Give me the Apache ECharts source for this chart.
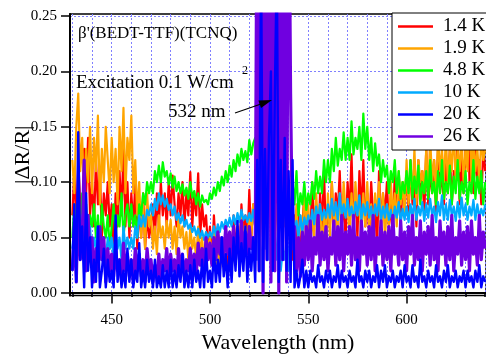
<!DOCTYPE html>
<html>
<head>
<meta charset="utf-8">
<script src="https://cdn.jsdelivr.net/npm/echarts@6/dist/echarts.min.js"></script>
<style>
  html, body { margin: 0; padding: 0; background: #fff; }
  #chart { width: 486px; height: 356px; }
</style>
</head>
<body>
<div id="chart"></div>
<script>
// wavelength grid: 430..640 nm, 1 nm step
var wlStart = 430;

var names = ['1.4 K', '1.9 K', '4.8 K', '10 K', '20 K', '26 K'];

var xMajor = [450, 500, 550, 600];
var xMinor = [430, 440, 450, 460, 470, 480, 490, 500, 510, 520, 530, 540, 550, 560, 570, 580, 590, 600, 610, 620, 630, 640];
var yTicks = [0, 0.05, 0.10, 0.15, 0.20, 0.25];

// 1.4 K
var k1_4 = [
  0.07,0.11,0.06,0.12,0.08,0.05,0.13,0.09,0.14,0.07,
  0.10,0.06,0.12,0.08,0.11,0.05,0.09,0.07,0.10,0.06,
  0.08,0.04,0.09,0.06,0.11,0.07,0.13,0.06,0.10,0.05,
  0.09,0.06,0.10,0.04,0.08,0.05,0.09,0.04,0.07,0.05,
  0.06,0.08,0.05,0.09,0.06,0.10,0.07,0.09,0.06,0.10,
  0.07,0.106,0.08,0.06,0.09,0.07,0.10,0.06,0.09,0.07,
  0.109,0.06,0.09,0.07,0.108,0.05,0.08,0.06,0.07,0.04,
  0.06,0.03,0.07,0.04,0.06,0.02,0.05,0.03,0.06,0.024,
  0.05,0.03,0.07,0.04,0.06,0.03,0.08,0.05,0.07,0.04,
  0.093,0.05,0.08,0.06,0.10,0.07,0.12,0.05,0.09,0.08,
  0.11,0.06,0.10,0.07,0.09,0.12,0.06,0.10,0.08,0.11,
  0.07,0.05,0.03,0.07,0.04,0.08,0.03,0.06,0.09,0.04,
  0.07,0.05,0.10,0.06,0.08,0.04,0.09,0.06,0.11,0.05,
  0.08,0.06,0.10,0.05,0.09,0.07,0.11,0.06,0.08,0.05,
  0.10,0.07,0.125,0.06,0.09,0.05,0.11,0.07,0.12,0.06,
  0.09,0.05,0.10,0.07,0.08,0.04,0.11,0.06,0.09,0.07,
  0.10,0.06,0.08,0.05,0.11,0.07,0.09,0.06,0.10,0.08,
  0.11,0.07,0.12,0.08,0.10,0.06,0.12,0.09,0.11,0.07,
  0.13,0.08,0.11,0.09,0.12,0.07,0.13,0.09,0.11,0.08,
  0.12,0.09,0.13,0.08,0.11,0.10,0.14,0.08,0.12,0.09,
  0.13,0.19,0.10,0.12,0.09,0.13,0.10,0.12,0.08,0.13,
  0.11
];

// 1.9 K
var k1_9 = [
  0.12,0.09,0.15,0.18,0.11,0.14,0.08,0.13,0.10,0.15,
  0.09,0.14,0.11,0.16,0.08,0.13,0.10,0.15,0.12,0.09,
  0.14,0.10,0.13,0.08,0.15,0.11,0.167,0.09,0.14,0.12,
  0.16,0.09,0.12,0.07,0.10,0.05,0.08,0.04,0.09,0.06,
  0.07,0.04,0.06,0.035,0.07,0.05,0.06,0.04,0.065,0.05,
  0.066,0.04,0.06,0.035,0.07,0.05,0.06,0.04,0.055,0.03,
  0.06,0.04,0.05,0.03,0.06,0.035,0.05,0.025,0.055,0.04,
  0.05,0.03,0.06,0.025,0.05,0.02,0.04,0.03,0.06,0.035,
  0.05,0.02,0.045,0.03,0.06,0.04,0.07,0.05,0.06,0.045,
  0.07,0.05,0.08,0.06,0.07,0.05,0.08,0.06,0.07,0.05,
  0.08,0.06,0.07,0.05,0.08,0.06,0.07,0.09,0.06,0.08,
  0.06,0.04,0.07,0.05,0.08,0.04,0.07,0.05,0.09,0.06,
  0.08,0.04,0.07,0.05,0.09,0.06,0.08,0.04,0.07,0.05,
  0.09,0.05,0.10,0.06,0.08,0.05,0.09,0.06,0.10,0.07,
  0.08,0.05,0.09,0.06,0.10,0.07,0.08,0.05,0.09,0.06,
  0.10,0.06,0.08,0.05,0.09,0.07,0.10,0.06,0.09,0.05,
  0.08,0.06,0.10,0.07,0.09,0.06,0.11,0.08,0.10,0.07,
  0.12,0.08,0.11,0.09,0.13,0.08,0.12,0.10,0.11,0.09,
  0.13,0.09,0.14,0.10,0.12,0.09,0.14,0.11,0.13,0.10,
  0.14,0.10,0.13,0.11,0.15,0.10,0.13,0.11,0.14,0.10,
  0.13,0.11,0.18,0.10,0.14,0.11,0.13,0.10,0.14,0.12,
  0.13
];

// 4.8 K
var k4_8 = [
  0.05,0.08,0.04,0.07,0.05,0.09,0.06,0.08,0.04,0.07,
  0.06,0.08,0.05,0.07,0.04,0.08,0.06,0.05,0.07,0.04,
  0.06,0.08,0.05,0.07,0.06,0.09,0.05,0.07,0.08,0.06,
  0.08,0.06,0.07,0.05,0.08,0.07,0.09,0.08,0.10,0.09,
  0.10,0.09,0.11,0.10,0.115,0.10,0.118,0.105,0.11,0.098,
  0.108,0.095,0.105,0.092,0.10,0.09,0.098,0.088,0.095,0.085,
  0.10,0.086,0.092,0.08,0.09,0.078,0.088,0.082,0.084,0.08,
  0.09,0.085,0.095,0.088,0.10,0.092,0.105,0.097,0.11,0.10,
  0.115,0.105,0.12,0.11,0.125,0.115,0.13,0.12,0.128,0.118,
  0.138,0.125,0.135,0.14,0.13,0.12,0.11,0.12,0.10,0.11,
  0.10,0.09,0.11,0.10,0.09,0.10,0.08,0.09,0.10,0.08,
  0.09,0.07,0.10,0.08,0.11,0.07,0.09,0.08,0.10,0.075,
  0.09,0.08,0.10,0.085,0.11,0.09,0.105,0.09,0.12,0.10,
  0.12,0.10,0.13,0.11,0.14,0.115,0.13,0.12,0.145,0.12,
  0.14,0.12,0.155,0.125,0.14,0.13,0.15,0.12,0.162,0.13,
  0.15,0.12,0.14,0.11,0.135,0.115,0.125,0.10,0.12,0.105,
  0.115,0.09,0.11,0.10,0.12,0.09,0.11,0.085,0.10,0.09,
  0.11,0.09,0.12,0.085,0.105,0.09,0.115,0.08,0.10,0.09,
  0.11,0.085,0.12,0.09,0.10,0.08,0.11,0.09,0.12,0.085,
  0.10,0.09,0.115,0.08,0.105,0.09,0.12,0.085,0.10,0.09,
  0.11,0.08,0.10,0.09,0.12,0.085,0.105,0.09,0.11,0.08,
  0.10
];

// 10 K
var k10 = [
  0.04,0.06,0.03,0.05,0.04,0.07,0.03,0.05,0.04,0.06,
  0.03,0.05,0.04,0.06,0.03,0.05,0.04,0.03,0.05,0.04,
  0.05,0.03,0.06,0.04,0.05,0.03,0.06,0.04,0.05,0.04,
  0.05,0.04,0.06,0.05,0.07,0.06,0.07,0.06,0.075,0.07,
  0.08,0.07,0.085,0.075,0.09,0.08,0.088,0.078,0.085,0.075,
  0.08,0.07,0.078,0.066,0.072,0.063,0.07,0.06,0.066,0.058,
  0.062,0.055,0.06,0.052,0.058,0.05,0.056,0.048,0.055,0.05,
  0.055,0.05,0.06,0.052,0.062,0.055,0.064,0.058,0.066,0.06,
  0.068,0.06,0.07,0.062,0.072,0.064,0.075,0.066,0.07,0.064,
  0.072,0.065,0.075,0.06,0.03,0.06,0.02,0.05,0.04,0.16,
  0.03,0.05,0.02,0.06,0.03,0.05,0.02,0.04,0.03,0.05,
  0.02,0.06,0.07,0.055,0.065,0.05,0.07,0.055,0.068,0.06,
  0.07,0.06,0.075,0.062,0.078,0.065,0.08,0.066,0.075,0.068,
  0.08,0.068,0.085,0.07,0.082,0.066,0.09,0.07,0.08,0.068,
  0.085,0.07,0.078,0.065,0.082,0.07,0.088,0.066,0.08,0.07,
  0.082,0.068,0.078,0.064,0.08,0.07,0.085,0.066,0.078,0.068,
  0.08,0.066,0.075,0.062,0.078,0.068,0.082,0.064,0.076,0.066,
  0.078,0.064,0.08,0.068,0.085,0.066,0.078,0.07,0.082,0.065,
  0.08,0.068,0.085,0.07,0.078,0.064,0.082,0.07,0.088,0.066,
  0.08,0.066,0.084,0.07,0.078,0.065,0.082,0.068,0.086,0.07,
  0.08,0.066,0.078,0.07,0.084,0.066,0.08,0.068,0.076,0.07,
  0.08
];

// 20 K
var k20 = [
  0.02,0.08,0.01,0.145,0.03,0.06,0.005,0.09,0.02,0.05,
  0.005,0.03,0.01,0.06,0.005,0.02,0.04,0.005,0.03,0.01,
  0.02,0.005,0.07,0.01,0.03,0.005,0.02,0.005,0.04,0.01,
  0.03,0.005,0.02,0.01,0.045,0.005,0.02,0.005,0.03,0.01,
  0.02,0.005,0.03,0.005,0.015,0.005,0.025,0.005,0.02,0.005,
  0.03,0.005,0.02,0.005,0.025,0.01,0.035,0.005,0.02,0.005,
  0.025,0.005,0.03,0.01,0.02,0.005,0.03,0.005,0.04,0.01,
  0.02,0.005,0.04,0.01,0.03,0.01,0.05,0.015,0.035,0.005,
  0.04,0.01,0.05,0.02,0.065,0.015,0.045,0.02,0.06,0.01,
  0.04,0.02,0.05,0.01,0.12,0.02,0.30,0.01,0.13,0.03,
  0.14,0.20,0.02,0.18,0.30,0.01,0.12,0.03,0.14,0.02,
  0.11,0.01,0.12,0.005,0.02,0.005,0.015,0.03,0.005,0.02,
  0.005,0.02,0.01,0.015,0.005,0.025,0.01,0.015,0.005,0.02,
  0.01,0.02,0.005,0.015,0.01,0.025,0.005,0.02,0.01,0.015,
  0.005,0.02,0.01,0.015,0.005,0.03,0.01,0.015,0.005,0.02,
  0.01,0.02,0.005,0.015,0.01,0.025,0.005,0.02,0.01,0.025,
  0.005,0.015,0.01,0.02,0.005,0.015,0.01,0.02,0.005,0.025,
  0.01,0.015,0.005,0.025,0.01,0.015,0.005,0.03,0.01,0.015,
  0.005,0.02,0.01,0.015,0.005,0.025,0.01,0.015,0.005,0.02,
  0.01,0.025,0.005,0.015,0.01,0.02,0.005,0.015,0.01,0.02,
  0.005,0.02,0.01,0.015,0.005,0.02,0.01,0.025,0.005,0.015,
  0.01
];

// 26 K (saturates at the 532 nm excitation line)
var k26 = [
  0.02,0.06,0.01,0.09,0.03,0.05,0.12,0.02,0.07,0.03,
  0.05,0.01,0.04,0.02,0.06,0.03,0.05,0.01,0.04,0.02,
  0.035,0.015,0.04,0.02,0.03,0.01,0.045,0.02,0.035,0.015,
  0.03,0.01,0.04,0.02,0.035,0.015,0.03,0.01,0.04,0.02,
  0.03,0.01,0.025,0.015,0.035,0.01,0.03,0.02,0.04,0.015,
  0.035,0.02,0.03,0.01,0.04,0.02,0.035,0.015,0.03,0.02,
  0.04,0.02,0.035,0.015,0.045,0.025,0.04,0.02,0.05,0.03,
  0.045,0.025,0.05,0.03,0.055,0.035,0.05,0.03,0.06,0.035,
  0.055,0.03,0.06,0.035,0.05,0.03,0.065,0.04,0.055,0.035,
  0.06,0.04,0.05,0.03,0.40,0.02,0.42,0.00,0.38,0.03,
  0.41,0.01,0.39,0.02,0.43,0.00,0.40,0.03,0.38,0.01,
  0.42,0.18,0.04,0.06,0.02,0.05,0.015,0.055,0.025,0.06,
  0.03,0.065,0.02,0.05,0.035,0.07,0.025,0.055,0.03,0.06,
  0.02,0.05,0.035,0.065,0.025,0.06,0.03,0.07,0.02,0.055,
  0.035,0.06,0.025,0.07,0.03,0.05,0.02,0.065,0.035,0.055,
  0.025,0.06,0.03,0.07,0.02,0.05,0.035,0.065,0.025,0.055,
  0.03,0.06,0.02,0.07,0.035,0.05,0.025,0.065,0.03,0.055,
  0.02,0.06,0.035,0.07,0.025,0.05,0.03,0.065,0.02,0.055,
  0.035,0.06,0.025,0.07,0.03,0.05,0.02,0.065,0.035,0.055,
  0.025,0.06,0.03,0.07,0.02,0.05,0.035,0.065,0.025,0.055,
  0.03,0.06,0.02,0.065,0.035,0.05,0.025,0.07,0.03,0.055,
  0.04
];

// draw order: 20 K last so its spikes sit on top of the saturated 26 K block
var allData = [k1_4, k1_9, k4_8, k10, k26, k20];
var seriesNames = ['1.4 K', '1.9 K', '4.8 K', '10 K', '26 K', '20 K'];
var seriesColors = ['#ff0000', '#ffa500', '#00ff00', '#00aaff', '#7000e0', '#0000ff'];
var seriesWidths = [2.2, 2.2, 2.2, 2.2, 3.2, 2.4];

var serif = "'Liberation Serif', 'Times New Roman', serif";

function toPairs(arr) {
  var out = [];
  for (var i = 0; i < arr.length; i++) {
    out.push([wlStart + i, arr[i]]);
  }
  return out;
}

var series = [];
for (var s = 0; s < allData.length; s++) {
  series.push({
    name: seriesNames[s],
    type: 'line',
    data: toPairs(allData[s]),
    symbol: 'none',
    animation: false,
    clip: true,
    lineStyle: { color: seriesColors[s], width: seriesWidths[s], join: 'round' },
    itemStyle: { color: seriesColors[s] }
  });
}

var chart = echarts.init(document.getElementById('chart'), null, { renderer: 'canvas' });

var option = {
  backgroundColor: '#fff',
  animation: false,
  grid: {
    left: 70, right: 0, top: 14, bottom: 60.5,
    outerBoundsMode: 'none', containLabel: false,
    show: true, borderColor: '#000', borderWidth: 1.5, backgroundColor: 'transparent'
  },
  legend: {
    data: names,
    orient: 'vertical',
    left: 392, top: 13,
    padding: [4, 2, 4, 6],
    icon: 'rect',
    itemWidth: 35, itemHeight: 2.5, itemGap: 3,
    backgroundColor: '#fff',
    borderColor: '#000', borderWidth: 1,
    textStyle: { fontFamily: serif, fontSize: 19, color: '#000', lineHeight: 19, padding: [0, 0, 0, 5] }
  },
  xAxis: [{
    type: 'value', min: 428.8, max: 640.4,
    name: 'Wavelength (nm)', nameLocation: 'middle', nameGap: 36,
    nameTextStyle: { fontFamily: serif, fontSize: 22, color: '#000' },
    axisLine: { lineStyle: { color: '#000', width: 2 } },
    axisTick: { customValues: xMinor, length: 4, lineStyle: { color: '#000', width: 1.5 } },
    axisLabel: { customValues: xMajor, margin: 17, fontFamily: serif, fontSize: 15, color: '#000' },
    splitLine: { show: true, lineStyle: { color: '#8080ff', type: [2, 2], width: 1 } }
  }, {
    type: 'value', min: 428.8, max: 640.4, position: 'bottom',
    axisLine: { show: false },
    axisTick: { customValues: xMajor, length: 8, lineStyle: { color: '#000', width: 1.5 } },
    axisLabel: { show: false },
    splitLine: { show: false }
  }],
  yAxis: {
    type: 'value', min: -0.0023, max: 0.2518,
    name: '|ΔR/R|', nameLocation: 'middle', nameGap: 36, nameMoveOverlap: false,
    nameTextStyle: { fontFamily: serif, fontSize: 22, color: '#000' },
    axisLine: { show: true, lineStyle: { color: '#000', width: 2 } },
    axisTick: { show: true, customValues: yTicks, length: 9, lineStyle: { color: '#000', width: 1.5 } },
    axisLabel: {
      customValues: yTicks, margin: 13, fontFamily: serif, fontSize: 15, color: '#000',
      formatter: function (v) { return v.toFixed(2); }
    },
    splitLine: { show: true, lineStyle: { color: '#8080ff', type: [2, 2], width: 1 } }
  },
  graphic: [
    { type: 'text', left: 78, top: 25, z: 50,
      style: { text: "β'(BEDT-TTF)(TCNQ)", font: '17px ' + serif, fill: '#000' } },
    { type: 'text', left: 76, top: 74, z: 50,
      style: { text: 'Excitation 0.1 W/cm', font: '19px ' + serif, fill: '#000' } },
    { type: 'text', left: 242, top: 65, z: 50,
      style: { text: '2', font: '12px ' + serif, fill: '#000' } },
    { type: 'text', left: 168, top: 103, z: 50,
      style: { text: '532 nm', font: '19px ' + serif, fill: '#000' } },
    { type: 'line', z: 50,
      shape: { x1: 235, y1: 113, x2: 261, y2: 104 },
      style: { stroke: '#000', lineWidth: 1.2 } },
    { type: 'polygon', z: 50,
      shape: { points: [[272, 100], [258.4, 100.4], [261, 108]] },
      style: { fill: '#000' } }
  ],
  series: series
};

chart.setOption(option);
</script>
</body>
</html>
